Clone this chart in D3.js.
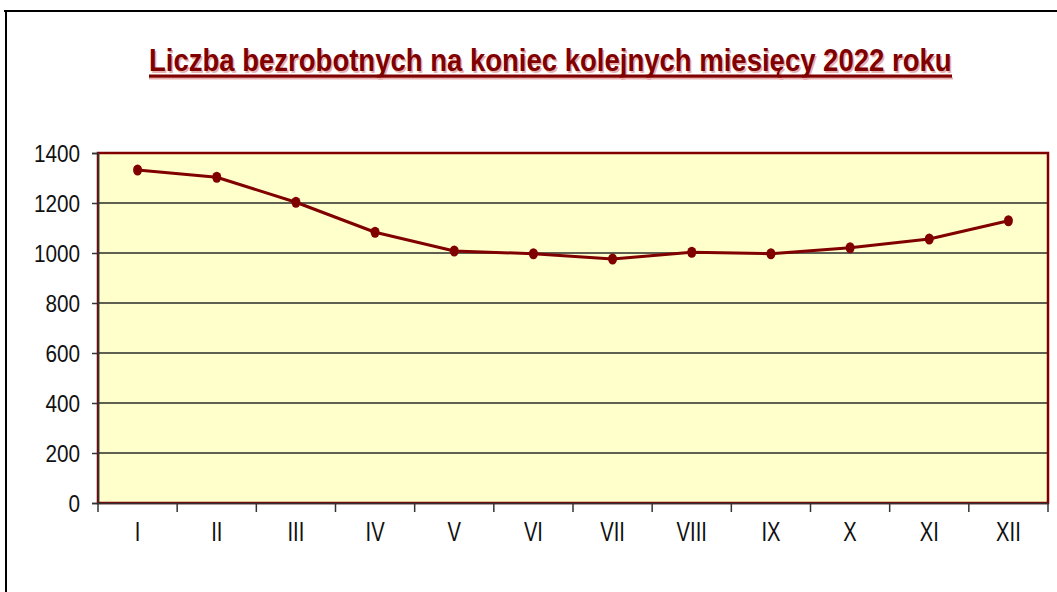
<!DOCTYPE html>
<html><head><meta charset="utf-8">
<script src="https://cdn.jsdelivr.net/npm/d3@7"></script>
<style>html,body{margin:0;padding:0;background:#fff;}svg{display:block;}</style>
</head><body>
<svg id="c" width="1057" height="592"></svg>
<script>
const titleText = "Liczba bezrobotnych na koniec kolejnych miesięcy 2022 roku";
const months = ["I","II","III","IV","V","VI","VII","VIII","IX","X","XI","XII"];
const values = [1332,1303,1203,1083,1008,997,976,1003,997,1021,1056,1129];
const yTicks = [0,200,400,600,800,1000,1200,1400];

const svg = d3.select("#c");
const W = 1057, H = 592;
const m = {left:98, right:1048, top:153, bottom:503};
const darkRed = "#800000";
const FONT = "'Liberation Sans',Arial,sans-serif";

// outer frame (top + left)
svg.append("line").attr("x1",4).attr("x2",W).attr("y1",11).attr("y2",11).attr("stroke","#000").attr("stroke-width",2);
svg.append("line").attr("x1",6).attr("x2",6).attr("y1",10).attr("y2",H).attr("stroke","#000").attr("stroke-width",2);

// title (condensed via horizontal scale)
const tx = 149, ty = 71, tlen = 803;
function titleLayer(dx, dy, fill){
  const g = svg.append("g");
  const t = g.append("text").attr("x",0).attr("y",0).text(titleText)
    .attr("font-family",FONT).attr("font-weight","bold").attr("font-size",32).attr("fill",fill);
  const w = t.node().getComputedTextLength();
  g.attr("transform",`translate(${tx+dx},${ty+dy}) scale(${tlen/w},1)`);
}
titleLayer(1.5,1.5,"#e9b0b0");
titleLayer(0,0,darkRed);
svg.append("rect").attr("x",tx).attr("y",77.5).attr("width",tlen+1).attr("height",2).attr("fill","#e9b0b0");
svg.append("rect").attr("x",tx).attr("y",74.5).attr("width",tlen).attr("height",3.2).attr("fill",darkRed);

const x = d3.scaleBand().domain(months).range([m.left, m.right]).padding(0);
const y = d3.scaleLinear().domain([0,1400]).range([m.bottom, m.top]);

// plot area
svg.append("rect").attr("x",m.left).attr("y",m.top).attr("width",m.right-m.left).attr("height",m.bottom-m.top)
  .attr("fill","#FFFFCC");

// gridlines
svg.append("g").selectAll("line").data(yTicks.filter(d=>d>0 && d<1400)).join("line")
  .attr("x1",m.left).attr("x2",m.right).attr("y1",d=>y(d)).attr("y2",d=>y(d))
  .attr("stroke","#2a2a2a").attr("stroke-width",1.5);

// plot border
svg.append("rect").attr("x",m.left).attr("y",m.top).attr("width",m.right-m.left).attr("height",m.bottom-m.top)
  .attr("fill","none").attr("stroke",darkRed).attr("stroke-width",2.5);

// y axis
const yAxis = d3.axisLeft(y).tickValues(yTicks).tickFormat(d3.format("d")).tickSize(6).tickPadding(12);
const gy = svg.append("g").attr("transform",`translate(${m.left},0)`).call(yAxis);
gy.select(".domain").attr("stroke","#333").attr("stroke-width",1.5);
gy.selectAll(".tick line").attr("stroke","#333").attr("stroke-width",1.5);
gy.selectAll("text").attr("font-family",FONT)
  .attr("font-size",23).attr("fill","#111").attr("dy","0.36em")
  .each(function(){ const t=d3.select(this); t.attr("textLength", this.getComputedTextLength()*0.9).attr("lengthAdjust","spacingAndGlyphs"); });

// x axis
const xAxis = d3.axisBottom(x).tickSize(0).tickPadding(24);
const gx = svg.append("g").attr("transform",`translate(0,${m.bottom})`).call(xAxis);
gx.select(".domain").attr("stroke","#333").attr("stroke-width",1.5);
gx.selectAll("text").attr("font-family",FONT)
  .attr("font-size",28).attr("fill","#111").attr("dy","0.5em")
  .each(function(){ const t=d3.select(this); t.attr("textLength", this.getComputedTextLength()*0.72).attr("lengthAdjust","spacingAndGlyphs"); });
// boundary ticks
const bounds = months.map(mo=>x(mo)).concat([m.right]);
svg.append("g").selectAll("line").data(bounds).join("line")
  .attr("x1",d=>d).attr("x2",d=>d).attr("y1",m.bottom).attr("y2",m.bottom+9)
  .attr("stroke","#333").attr("stroke-width",1.5);

// line
const line = d3.line().x((d,i)=>x(months[i])+x.bandwidth()/2).y(d=>y(d));
svg.append("path").datum(values).attr("d",line).attr("fill","none")
  .attr("stroke",darkRed).attr("stroke-width",3).attr("stroke-linejoin","round");
svg.append("g").selectAll("ellipse").data(values).join("ellipse")
  .attr("cx",(d,i)=>x(months[i])+x.bandwidth()/2).attr("cy",d=>y(d))
  .attr("rx",4.5).attr("ry",5.5).attr("fill",darkRed);
</script>
</body></html>
